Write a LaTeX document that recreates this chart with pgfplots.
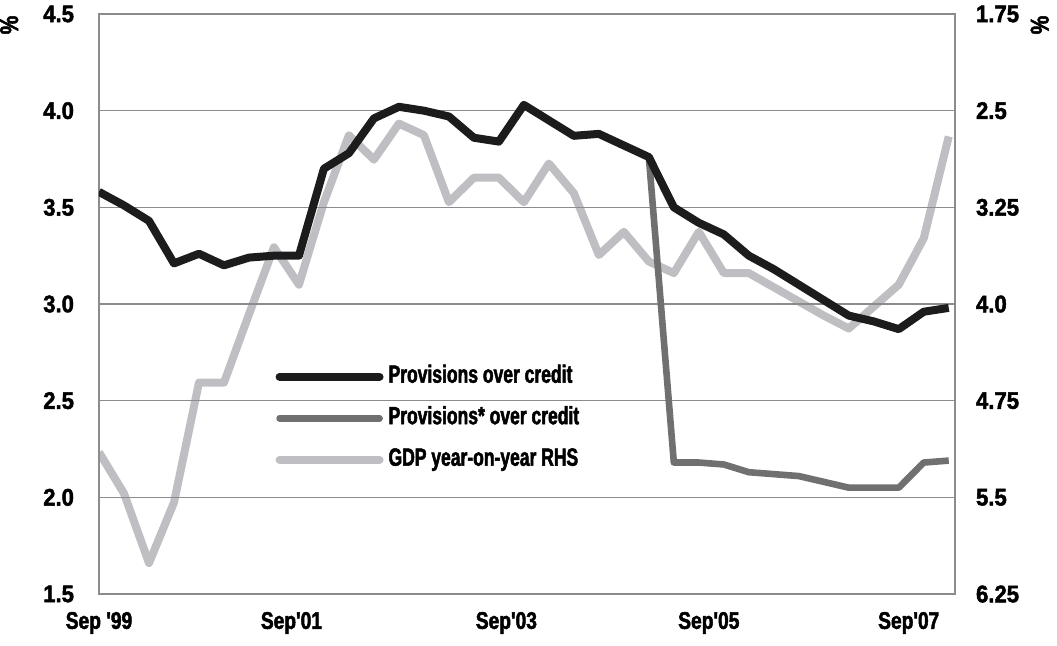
\documentclass[border=0pt]{standalone}
\usepackage{fontspec}
\setmainfont{Liberation Sans}
\newfontfamily\tickfont{Liberation Sans Bold}[FakeStretch=0.8, FakeBold=2]
\newfontfamily\ytickfont{Liberation Sans Bold}[FakeStretch=0.92, FakeBold=2]
\newfontfamily\legfont{Liberation Sans Bold}[FakeStretch=0.7, FakeBold=2]
\usepackage{pgfplots}
\usepackage{pgfplotstable}
\pgfplotsset{compat=1.18}

\definecolor{provblack}{RGB}{28,28,28}
\definecolor{provgray}{RGB}{112,112,112}
\definecolor{gdpgray}{RGB}{190,190,195}
\definecolor{gridgray}{RGB}{140,140,140}

% quarters counted from Sep 1999 (0) to Mar 2008 (34)
\pgfplotstableread{
q  prov  provstar
0  3.58  3.58
1  3.51  3.51
2  3.43  3.43
3  3.21  3.21
4  3.26  3.26
5  3.20  3.20
6  3.24  3.24
7  3.25  3.25
8  3.25  3.25
9  3.70  3.70
10 3.78  3.78
11 3.96  3.96
12 4.02  4.02
13 4.00  4.00
14 3.97  3.97
15 3.86  3.86
16 3.84  3.84
17 4.03  4.03
18 3.95  3.95
19 3.87  3.87
20 3.88  3.88
21 3.82  3.82
22 3.76  3.76
23 3.50  2.18
24 3.42  2.18
25 3.36  2.17
26 3.25  2.13
27 3.18  2.12
28 3.10  2.11
29 3.02  2.08
30 2.94  2.05
31 2.91  2.05
32 2.87  2.05
33 2.96  2.18
34 2.98  2.19
}\credit

\pgfplotstableread{
q  gdp
0  5.15
1  5.47
2  6.01
3  5.54
4  4.61
5  4.61
6  4.08
7  3.56
8  3.85
9  3.21
10 2.69
11 2.88
12 2.60
13 2.69
14 3.21
15 3.02
16 3.02
17 3.21
18 2.91
19 3.14
20 3.62
21 3.44
22 3.67
23 3.76
24 3.44
25 3.76
26 3.76
27 3.87
28 3.98
29 4.09
30 4.19
31 4.02
32 3.85
33 3.49
34 2.70
}\gdp

\pgfplotsset{
  base/.style={
    scale only axis, width=428pt, height=290pt,
    at={(49.5pt,25.5pt)}, anchor=south west,
    xmin=0, xmax=34.25,
    major tick length=0pt,
    clip mode=individual,
    /pgf/number format/assume math mode=true,
    tick label style={font=\tickfont\fontsize{12}{14}\selectfont},
    yticklabel style={font=\ytickfont\fontsize{12}{14}\selectfont},
  }
}

\begin{document}
\begin{tikzpicture}
\path[use as bounding box] (0,0) rectangle (528.5pt,322.5pt);

% right axis: GDP, inverted
\begin{axis}[base,
  ymin=1.75, ymax=6.25, y dir=reverse,
  axis y line*=right, hide x axis,
  y axis line style={draw=none},
  ytick={1.75,2.5,3.25,4.0,4.75,5.5,6.25},
  yticklabels={1.75,2.5,3.25,4.0,4.75,5.5,6.25},
  yticklabel style={xshift=7pt},
]
\addplot[gdpgray, line width=4pt, line join=round] table[x=q, y=gdp]{\gdp};
\end{axis}

% left axis: provisions
\begin{axis}[base,
  ymin=1.5, ymax=4.5,
  ytick={1.5,2.0,...,4.5},
  yticklabels={1.5,2.0,2.5,3.0,3.5,4.0,4.5},
  yticklabel style={xshift=-9pt},
  xtick={0,7.7,16.3,24.4,32.4},
  xticklabels={Sep '99,Sep'01,Sep'03,Sep'05,Sep'07},
  xticklabel style={yshift=-5.5pt},
  ymajorgrids,
  grid style={gridgray, line width=0.75pt},
  axis line style={gridgray, line width=0.75pt},
  legend style={at={(0.2058,0.396)}, anchor=north west, draw=none, fill=none,
    inner sep=0pt, row sep=8.75pt,
    font=\legfont\fontsize{12.5}{14}\selectfont,
    nodes={inner sep=0pt, text height=9pt, text depth=3pt},
    /tikz/every odd column/.append style={column sep=2.5pt}},
  legend cell align=left,
  legend image code/.code={\draw[#1, line cap=round] (0pt,0pt) -- (50pt,0pt);},
]
\addplot[provgray, line width=3.3pt, line join=round, forget plot] table[x=q, y=provstar]{\credit};
\addplot[provblack, line width=4pt, line join=round, forget plot] table[x=q, y=prov]{\credit};
\addlegendimage{provblack, line width=4pt}
\addlegendentry{Provisions over credit}
\addlegendimage{provgray, line width=3.3pt}
\addlegendentry{Provisions* over credit}
\addlegendimage{gdpgray, line width=4pt}
\addlegendentry{GDP year-on-year RHS}
\node[rotate=90, font=\tickfont\fontsize{13}{14}\selectfont] at (rel axis cs:-0.105,0.981) {\%};
\node[rotate=90, font=\tickfont\fontsize{13}{14}\selectfont] at (rel axis cs:1.099,0.981) {\%};
\end{axis}
\end{tikzpicture}
\end{document}
